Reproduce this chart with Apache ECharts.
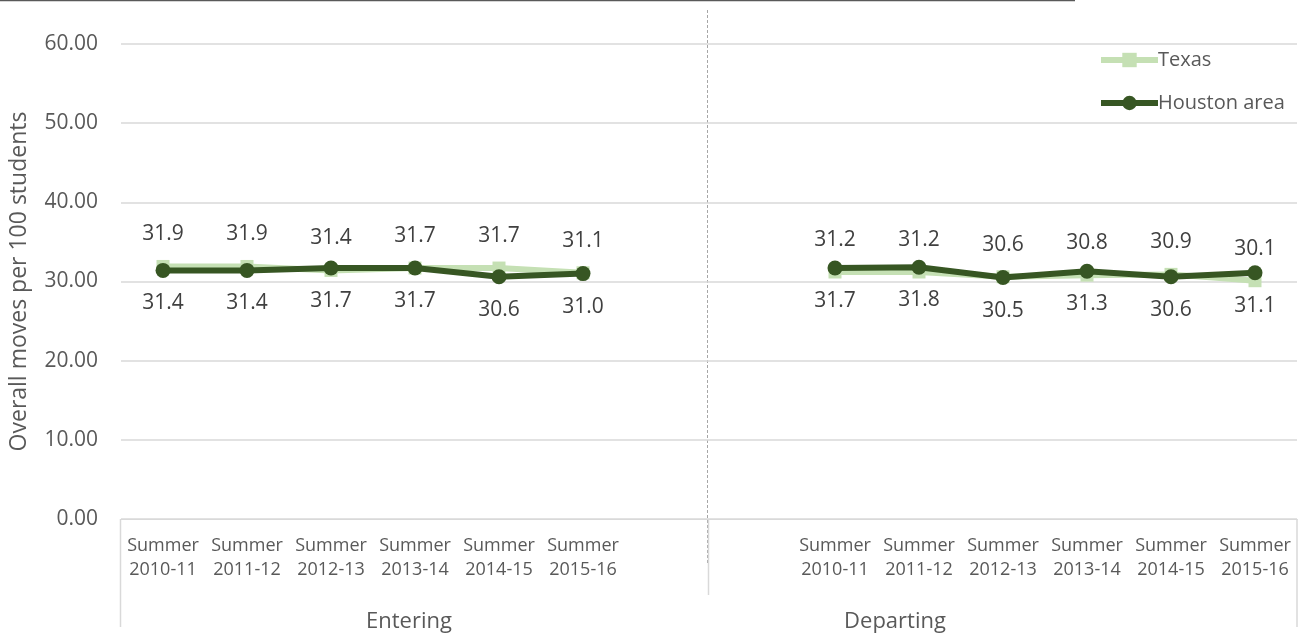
<!DOCTYPE html>
<html>
<head>
<meta charset="UTF-8">
<title></title>
<script src="https://cdn.jsdelivr.net/npm/echarts@6/dist/echarts.min.js"></script>
<style>
  html, body { margin: 0; padding: 0; background: #fff; }
</style>
</head>
<body>
<div id="main" style="width: 1304px;height:636px;"></div>
<script type="text/javascript">
// data
var periods = ['Summer\n2010-11', 'Summer\n2011-12', 'Summer\n2012-13', 'Summer\n2013-14', 'Summer\n2014-15', 'Summer\n2015-16'];
var groups = ['Entering', 'Departing'];
var texas = [31.9, 31.9, 31.4, 31.7, 31.7, 31.1, null, null, 31.2, 31.2, 30.6, 30.8, 30.9, 30.1];
var houston = [31.4, 31.4, 31.7, 31.7, 30.6, 31.0, null, null, 31.7, 31.8, 30.5, 31.3, 30.6, 31.1];

// two empty slots between the groups
var categories = periods.concat(['', ''], periods);

var font = 'Open Sans';
var grey = '#595959';
var lineGrey = '#d9d9d9';

var myChart = echarts.init(document.getElementById('main'));
var option = {
  animation: false,
  textStyle: { fontFamily: font },
  grid: { left: 120, right: 7, top: 44, bottom: 117 },
  legend: {
    orient: 'vertical',
    left: 1093,
    top: 45,
    itemWidth: 57,
    itemHeight: 18,
    itemGap: 23,
    lineStyle: { width: 6 },
    textStyle: { fontFamily: font, fontSize: 20, color: grey, padding: [0, 0, 0, -5] },
    data: ['Texas', 'Houston area']
  },
  xAxis: {
    type: 'category',
    data: categories,
    boundaryGap: true,
    axisLine: { lineStyle: { color: lineGrey, width: 1 } },
    axisTick: { show: false },
    axisLabel: {
      interval: 0,
      margin: 15,
      fontFamily: font,
      fontSize: 18,
      lineHeight: 24,
      color: grey
    }
  },
  yAxis: {
    type: 'value',
    min: 0,
    max: 60,
    interval: 10,
    name: 'Overall moves per 100 students',
    nameLocation: 'middle',
    nameGap: 90,
    nameTextStyle: { fontFamily: font, fontSize: 23, color: grey },
    axisLine: { show: false },
    axisTick: { show: false },
    axisLabel: {
      margin: 23,
      fontFamily: font,
      fontSize: 21,
      color: grey,
      formatter: function (v) { return v.toFixed(2); }
    },
    splitLine: { lineStyle: { color: lineGrey, width: 1.5 } }
  },
  series: [
    {
      name: 'Texas',
      type: 'line',
      data: texas,
      symbol: 'rect',
      symbolSize: 13,
      connectNulls: false,
      lineStyle: { color: '#c5e0b4', width: 6 },
      itemStyle: { color: '#c5e0b4' },
      label: {
        show: true,
        position: 'top',
        distance: 15,
        fontFamily: font,
        fontSize: 21,
        color: '#404040',
        formatter: function (p) { return p.value.toFixed(1); }
      },
      z: 2
    },
    {
      name: 'Houston area',
      type: 'line',
      data: houston,
      symbol: 'circle',
      symbolSize: 15,
      connectNulls: false,
      lineStyle: { color: '#375623', width: 6 },
      itemStyle: { color: '#375623' },
      label: {
        show: true,
        position: 'bottom',
        distance: 15,
        fontFamily: font,
        fontSize: 21,
        color: '#404040',
        formatter: function (p) { return p.value.toFixed(1); }
      },
      z: 3
    }
  ],
  graphic: [
    // top border strip
    { type: 'line', shape: { x1: 0, y1: 0.5, x2: 1075, y2: 0.5 }, style: { stroke: '#595959', lineWidth: 1.5 } },
    // dashed divider between groups
    { type: 'line', shape: { x1: 707.5, y1: 10, x2: 707.5, y2: 565 }, style: { stroke: '#a6a6a6', lineWidth: 1, lineDash: [3, 2] } },
    // multi-level axis box lines
    { type: 'line', shape: { x1: 120.5, y1: 519, x2: 120.5, y2: 627 }, style: { stroke: lineGrey, lineWidth: 1.5 } },
    { type: 'line', shape: { x1: 708.5, y1: 519, x2: 708.5, y2: 595 }, style: { stroke: lineGrey, lineWidth: 1.5 } },
    { type: 'line', shape: { x1: 1297, y1: 519, x2: 1297, y2: 627 }, style: { stroke: lineGrey, lineWidth: 1.5 } },
    { type: 'text', x: 409, y: 622, style: { text: groups[0], fontFamily: font, fontSize: 22, fill: grey, textAlign: 'center', textVerticalAlign: 'middle' } },
    { type: 'text', x: 895, y: 622, style: { text: groups[1], fontFamily: font, fontSize: 22, fill: grey, textAlign: 'center', textVerticalAlign: 'middle' } }
  ]
};
myChart.setOption(option);
</script>
</body>
</html>
